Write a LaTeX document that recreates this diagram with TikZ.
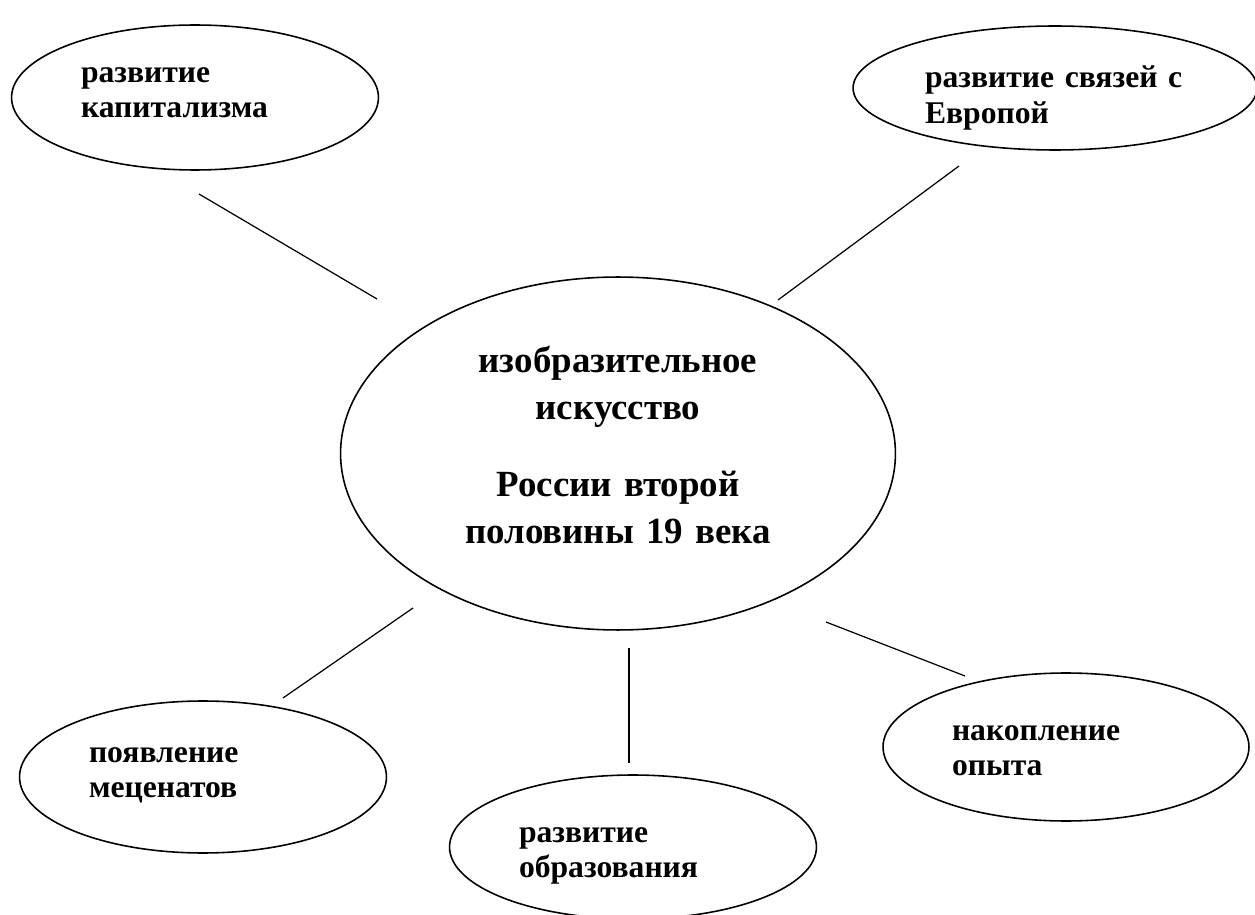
\documentclass[tikz,border=0pt]{standalone}
\usepackage{fontspec}
\setmainfont{Liberation Serif}
\usetikzlibrary{shapes.geometric}

\tikzset{
  oval/.style={draw, ellipse, line width=0.9pt, inner sep=0pt, align=left, text depth=0.7cm, font=\bfseries\fontsize{18}{20}\selectfont},
  bubble/.style={oval, text width=4.56cm},
  link/.style={line width=0.7pt}
}

\begin{document}
\begin{tikzpicture}[x=0.02cm, y=-0.02cm]
        \useasboundingbox (0,0) rectangle (1255,915);
        \node[bubble, minimum width=7.34cm, minimum height=2.9cm, text height=0.1cm] (cap) at (195,97.5) {развитие\\капитализма};
        \node[oval, text width=5.2cm, minimum width=8.08cm, minimum height=2.48cm, text height=0.7cm] (euro) at (1055,88) {развитие связей с\\Европой};
        \node[draw, ellipse, line width=0.9pt, inner sep=0pt, minimum width=11.1cm, minimum height=7.06cm, text width=6.4cm, align=center, text height=0.16cm, text depth=3.42cm, font=\bfseries\fontsize{21}{26.8}\selectfont] (art) at (618,453.5) {изобразительное\\искусство\\[17pt]России второй\\половины 19 века};
        \node[bubble, minimum width=7.34cm, minimum height=3.04cm, text height=0.1cm] (mec) at (203,777) {появление\\меценатов};
        \node[bubble, minimum width=7.34cm, minimum height=2.88cm, text height=0.5cm] (edu) at (633,847) {развитие\\образования};
        \node[bubble, minimum width=7.32cm, minimum height=2.96cm, text height=0.42cm] (exp) at (1066,747) {накопление\\опыта};
        \foreach \n/\x/\y/\u/\v in {cap/199/194/377/299, euro/959/166/778/300, mec/283/698/413/608, edu/629/763/629/648, exp/965/676/826/622}{
          \coordinate (\n-out) at (\x,\y); \coordinate (\n-in) at (\u,\v);
          \draw[link] (\n-out) -- (\n-in);}
\end{tikzpicture}
\end{document}
